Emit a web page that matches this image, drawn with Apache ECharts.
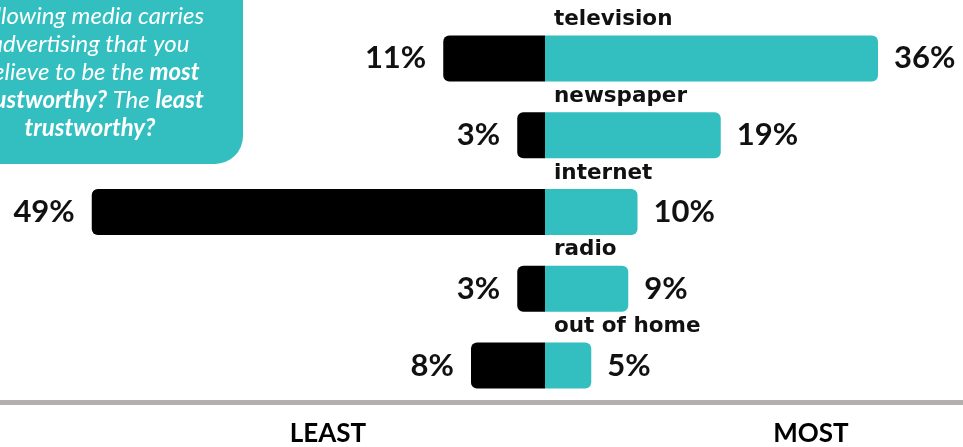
<!DOCTYPE html>
<html>
<head>
<meta charset="utf-8">
<script src="https://cdn.jsdelivr.net/npm/echarts@6/dist/echarts.min.js"></script>
<style>
html,body{margin:0;padding:0;background:#fff;}
#chart{width:963px;height:447px;}
</style>
</head>
<body>
<div id="chart"></div>
<script>
const categories = ['television', 'newspaper', 'internet', 'radio', 'out of home'];
const leastValues = [11, 3, 49, 3, 8];
const mostValues = [36, 19, 10, 9, 5];
const questionLines = [
  [{t:'following media carries', s:'n'}],
  [{t:'advertising that you', s:'n'}],
  [{t:'believe to be the ', s:'n'}, {t:'most', s:'b'}],
  [{t:'trustworthy?', s:'b'}, {t:' The ', s:'n'}, {t:'least', s:'b'}],
  [{t:'trustworthy?', s:'b'}]
];

const TEAL = '#33bec0';
const chart = echarts.init(document.getElementById('chart'));

const richText = questionLines.map(parts => parts.map(p => '{' + p.s + '|' + p.t + '}').join('')).join('\n');

chart.setOption({
  animation: false,
  backgroundColor: '#fff',
  grid: {left: 82.5, right: 1.75, top: 20, bottom: 43, containLabel: false},
  xAxis: {type: 'value', min: -50, max: 45, show: false},
  yAxis: {
    type: 'category', data: categories, inverse: true,
    axisLine: {show: false}, axisTick: {show: false}, splitLine: {show: false},
    axisLabel: {show: false}
  },
  series: [
    {
      name: 'least', type: 'bar', stack: 'all', barWidth: 46,
      data: leastValues.map(v => -v),
      itemStyle: {color: '#000', borderRadius: [6, 0, 0, 6]},
      label: {
        show: true, position: 'left', distance: 17,
        formatter: p => Math.abs(p.value) + '%',
        fontFamily: 'Lato', fontWeight: 'bold', fontSize: 31, color: '#111'
      }
    },
    {
      name: 'most', type: 'bar', stack: 'all', barWidth: 46,
      data: mostValues,
      itemStyle: {color: TEAL, borderRadius: [0, 6, 6, 0]},
      label: {
        show: true, position: 'right', distance: 16,
        formatter: p => p.value + '%',
        fontFamily: 'Lato', fontWeight: 'bold', fontSize: 31, color: '#111'
      }
    },
    {
      name: 'names', type: 'custom',
      data: categories.map((c, i) => [0, i]),
      renderItem: (params, api) => {
        const pt = api.coord([0, api.value(1)]);
        return {
          type: 'text',
          x: pt[0] + 9, y: pt[1] - 39,
          style: {
            text: categories[api.value(1)],
            align: 'left', verticalAlign: 'middle',
            fontFamily: 'DejaVu Sans', fontWeight: 'bold', fontSize: 21.5, fill: '#111'
          }
        };
      }
    }
  ],
  graphic: [
    {type: 'rect', z: 5, shape: {x: -30, y: -30, width: 273, height: 194, r: [0, 0, 28, 0]}, style: {fill: TEAL}},
    {
      type: 'text', x: 90, y: 72, z: 10,
      style: {
        text: richText, align: 'center', verticalAlign: 'middle',
        rich: {
          n: {fontFamily: 'Lato', fontStyle: 'italic', fontSize: 24, lineHeight: 28, fill: '#fff', fontWeight: 'normal'},
          b: {fontFamily: 'Lato', fontStyle: 'italic', fontSize: 24, lineHeight: 28, fill: '#fff', fontWeight: 'bold'}
        }
      }
    },
    {type: 'rect', shape: {x: 0, y: 400, width: 963, height: 5}, style: {fill: '#b3afad'}},
    {type: 'text', x: 328, y: 434, style: {text: 'LEAST', align: 'center', verticalAlign: 'middle', fontFamily: 'Lato', fontWeight: 'bold', fontSize: 26, fill: '#000'}},
    {type: 'text', x: 811, y: 434, style: {text: 'MOST', align: 'center', verticalAlign: 'middle', fontFamily: 'Lato', fontWeight: 'bold', fontSize: 26, fill: '#000'}}
  ]
});
</script>
</body>
</html>
